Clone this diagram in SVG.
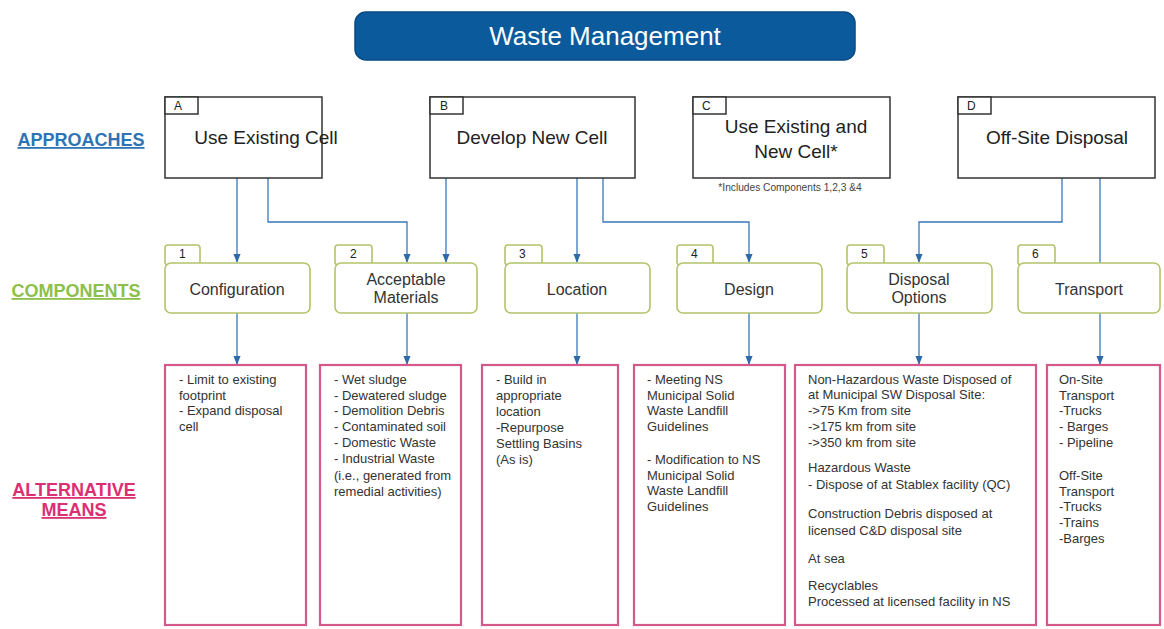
<svg xmlns="http://www.w3.org/2000/svg" width="1164" height="629" viewBox="0 0 1164 629">
  <style>
    text { font-family: "Liberation Sans", Arial, sans-serif; fill: #222; }
    .title { font-size: 26px; fill: #ffffff; text-anchor: middle; }
    .appr { fill: #ffffff; stroke: #333; stroke-width: 1.5; }
    .apprtxt { font-size: 19px; text-anchor: middle; }
    .tabtxt { font-size: 12px; }
    .comp { fill: #ffffff; stroke: #b3c46a; stroke-width: 1.6; }
    .comptxt { font-size: 16px; text-anchor: middle; fill: #333; }
    .alt { fill: #ffffff; stroke: #d4588a; stroke-width: 2.2; }
    .alttxt { font-size: 13px; fill: #333; }
    .note { font-size: 10.2px; text-anchor: middle; fill: #444; }
    .row { font-size: 18px; font-weight: bold; text-anchor: middle; text-decoration: underline; }
    .conn { fill: none; stroke: #3a78b8; stroke-width: 1.3; }
  </style>
  <defs>
    <marker id="arrow" viewBox="0 0 10 10" refX="9" refY="5" markerWidth="7" markerHeight="7" orient="auto">
      <path d="M0,1 L10,5 L0,9 z" fill="#2f6aa8"/>
    </marker>
  </defs>

  <rect width="1164" height="629" fill="#ffffff"/>

  <!-- title -->
  <g id="title">
    <rect x="355" y="12" width="500" height="48" rx="11" fill="#0b5a9c" stroke="#084a82" stroke-width="1.5"/>
    <text class="title" x="605" y="45">Waste Management</text>
  </g>

  <!-- row labels -->
  <g id="row-labels">
    <text class="row" x="81" y="146" style="fill:#2e74b5">APPROACHES</text>
    <text class="row" x="76" y="297" style="fill:#8cc04a">COMPONENTS</text>
    <text class="row" x="74" y="496" style="fill:#dc2f72">ALTERNATIVE</text>
    <text class="row" x="74" y="516" style="fill:#dc2f72">MEANS</text>
  </g>

  <!-- connectors -->
  <g id="connectors">
    <path class="conn" d="M237,178 V262" marker-end="url(#arrow)"/>
    <path class="conn" d="M268,178 V222 H407 V262" marker-end="url(#arrow)"/>
    <path class="conn" d="M446,178 V262" marker-end="url(#arrow)"/>
    <path class="conn" d="M577,178 V262" marker-end="url(#arrow)"/>
    <path class="conn" d="M603,178 V222 H749 V262" marker-end="url(#arrow)"/>
    <path class="conn" d="M1062,178 V222 H919 V262" marker-end="url(#arrow)"/>
    <path class="conn" d="M1100,178 V271" marker-end="url(#arrow)"/>
    <path class="conn" d="M237,313 V364" marker-end="url(#arrow)"/>
    <path class="conn" d="M407,313 V364" marker-end="url(#arrow)"/>
    <path class="conn" d="M577,313 V364" marker-end="url(#arrow)"/>
    <path class="conn" d="M749,313 V364" marker-end="url(#arrow)"/>
    <path class="conn" d="M919,313 V364" marker-end="url(#arrow)"/>
    <path class="conn" d="M1100,313 V364" marker-end="url(#arrow)"/>
  </g>

  <!-- approaches -->
  <g id="approach-a">
    <rect class="appr" x="165" y="97" width="157" height="81"/>
    <rect class="appr" x="165" y="97" width="33" height="17"/>
    <text class="tabtxt" x="174" y="110">A</text>
    <text class="apprtxt" x="266" y="144">Use Existing Cell</text>
  </g>
  <g id="approach-b">
    <rect class="appr" x="430" y="97" width="205" height="81"/>
    <rect class="appr" x="430" y="97" width="33" height="17"/>
    <text class="tabtxt" x="440" y="110">B</text>
    <text class="apprtxt" x="532" y="144">Develop New Cell</text>
  </g>
  <g id="approach-c">
    <rect class="appr" x="693" y="97" width="197" height="81"/>
    <rect class="appr" x="693" y="97" width="33" height="17"/>
    <text class="tabtxt" x="702" y="110">C</text>
    <text class="apprtxt" x="796" y="133">Use Existing and</text>
    <text class="apprtxt" x="796" y="158">New Cell*</text>
    <text class="note" x="790" y="191">*Includes Components 1,2,3 &amp;4</text>
  </g>
  <g id="approach-d">
    <rect class="appr" x="958" y="97" width="197" height="81"/>
    <rect class="appr" x="958" y="97" width="33" height="17"/>
    <text class="tabtxt" x="967" y="110">D</text>
    <text class="apprtxt" x="1057" y="144">Off-Site Disposal</text>
  </g>

  <!-- components -->
  <g id="component-1">
    <rect class="comp" x="165" y="245" width="35" height="20" rx="3"/>
    <rect class="comp" x="165" y="263" width="145" height="50" rx="6"/>
    <text class="tabtxt" x="179" y="258">1</text>
    <text class="comptxt" x="237" y="295">Configuration</text>
  </g>
  <g id="component-2">
    <rect class="comp" x="335" y="245" width="37" height="20" rx="3"/>
    <rect class="comp" x="335" y="263" width="142" height="50" rx="6"/>
    <text class="tabtxt" x="350" y="258">2</text>
    <text class="comptxt" x="406" y="285">Acceptable</text>
    <text class="comptxt" x="406" y="303">Materials</text>
  </g>
  <g id="component-3">
    <rect class="comp" x="505" y="245" width="37" height="20" rx="3"/>
    <rect class="comp" x="505" y="263" width="145" height="50" rx="6"/>
    <text class="tabtxt" x="519" y="258">3</text>
    <text class="comptxt" x="577" y="295">Location</text>
  </g>
  <g id="component-4">
    <rect class="comp" x="677" y="245" width="36" height="20" rx="3"/>
    <rect class="comp" x="677" y="263" width="145" height="50" rx="6"/>
    <text class="tabtxt" x="691" y="258">4</text>
    <text class="comptxt" x="749" y="295">Design</text>
  </g>
  <g id="component-5">
    <rect class="comp" x="847" y="245" width="37" height="20" rx="3"/>
    <rect class="comp" x="847" y="263" width="145" height="50" rx="6"/>
    <text class="tabtxt" x="861" y="258">5</text>
    <text class="comptxt" x="919" y="285">Disposal</text>
    <text class="comptxt" x="919" y="303">Options</text>
  </g>
  <g id="component-6">
    <rect class="comp" x="1018" y="245" width="37" height="20" rx="3"/>
    <rect class="comp" x="1018" y="263" width="142" height="50" rx="6"/>
    <text class="tabtxt" x="1032" y="258">6</text>
    <text class="comptxt" x="1089" y="295">Transport</text>
  </g>

  <!-- alternative means -->
  <g id="alt-1">
    <rect class="alt" x="165" y="365" width="141" height="260"/>
    <text class="alttxt" x="179" y="384">- Limit to existing</text>
    <text class="alttxt" x="179" y="400">footprint</text>
    <text class="alttxt" x="179" y="415">- Expand disposal</text>
    <text class="alttxt" x="179" y="431">cell</text>
  </g>
  <g id="alt-2">
    <rect class="alt" x="320" y="365" width="141" height="260"/>
    <text class="alttxt" x="334" y="384">- Wet sludge</text>
    <text class="alttxt" x="334" y="400">- Dewatered sludge</text>
    <text class="alttxt" x="334" y="415">- Demolition Debris</text>
    <text class="alttxt" x="334" y="431">- Contaminated soil</text>
    <text class="alttxt" x="334" y="447">- Domestic Waste</text>
    <text class="alttxt" x="334" y="463">- Industrial Waste</text>
    <text class="alttxt" x="334" y="480">(i.e., generated from</text>
    <text class="alttxt" x="334" y="496">remedial activities)</text>
  </g>
  <g id="alt-3">
    <rect class="alt" x="482" y="365" width="136" height="260"/>
    <text class="alttxt" x="496" y="384">- Build in</text>
    <text class="alttxt" x="496" y="400">appropriate</text>
    <text class="alttxt" x="496" y="416">location</text>
    <text class="alttxt" x="496" y="432">-Repurpose</text>
    <text class="alttxt" x="496" y="448">Settling Basins</text>
    <text class="alttxt" x="496" y="464">(As is)</text>
  </g>
  <g id="alt-4">
    <rect class="alt" x="634" y="365" width="151" height="260"/>
    <text class="alttxt" x="647" y="384">- Meeting NS</text>
    <text class="alttxt" x="647" y="400">Municipal Solid</text>
    <text class="alttxt" x="647" y="415">Waste Landfill</text>
    <text class="alttxt" x="647" y="431">Guidelines</text>
    <text class="alttxt" x="647" y="464">- Modification to NS</text>
    <text class="alttxt" x="647" y="480">Municipal Solid</text>
    <text class="alttxt" x="647" y="495">Waste Landfill</text>
    <text class="alttxt" x="647" y="511">Guidelines</text>
  </g>
  <g id="alt-5">
    <rect class="alt" x="795" y="365" width="241" height="260"/>
    <text class="alttxt" x="808" y="384">Non-Hazardous Waste Disposed of</text>
    <text class="alttxt" x="808" y="399">at Municipal SW Disposal Site:</text>
    <text class="alttxt" x="808" y="415">-&gt;75 Km from site</text>
    <text class="alttxt" x="808" y="431">-&gt;175 km from site</text>
    <text class="alttxt" x="808" y="447">-&gt;350 km from site</text>
    <text class="alttxt" x="808" y="472">Hazardous Waste</text>
    <text class="alttxt" x="808" y="489">- Dispose of at Stablex facility (QC)</text>
    <text class="alttxt" x="808" y="518">Construction Debris disposed at</text>
    <text class="alttxt" x="808" y="535">licensed C&amp;D disposal site</text>
    <text class="alttxt" x="808" y="563">At sea</text>
    <text class="alttxt" x="808" y="590">Recyclables</text>
    <text class="alttxt" x="808" y="606">Processed at licensed facility in NS</text>
  </g>
  <g id="alt-6">
    <rect class="alt" x="1047" y="365" width="113" height="260"/>
    <text class="alttxt" x="1059" y="384">On-Site</text>
    <text class="alttxt" x="1059" y="400">Transport</text>
    <text class="alttxt" x="1059" y="415">-Trucks</text>
    <text class="alttxt" x="1059" y="431">- Barges</text>
    <text class="alttxt" x="1059" y="447">- Pipeline</text>
    <text class="alttxt" x="1059" y="480">Off-Site</text>
    <text class="alttxt" x="1059" y="496">Transport</text>
    <text class="alttxt" x="1059" y="511">-Trucks</text>
    <text class="alttxt" x="1059" y="527">-Trains</text>
    <text class="alttxt" x="1059" y="543">-Barges</text>
  </g>
</svg>
